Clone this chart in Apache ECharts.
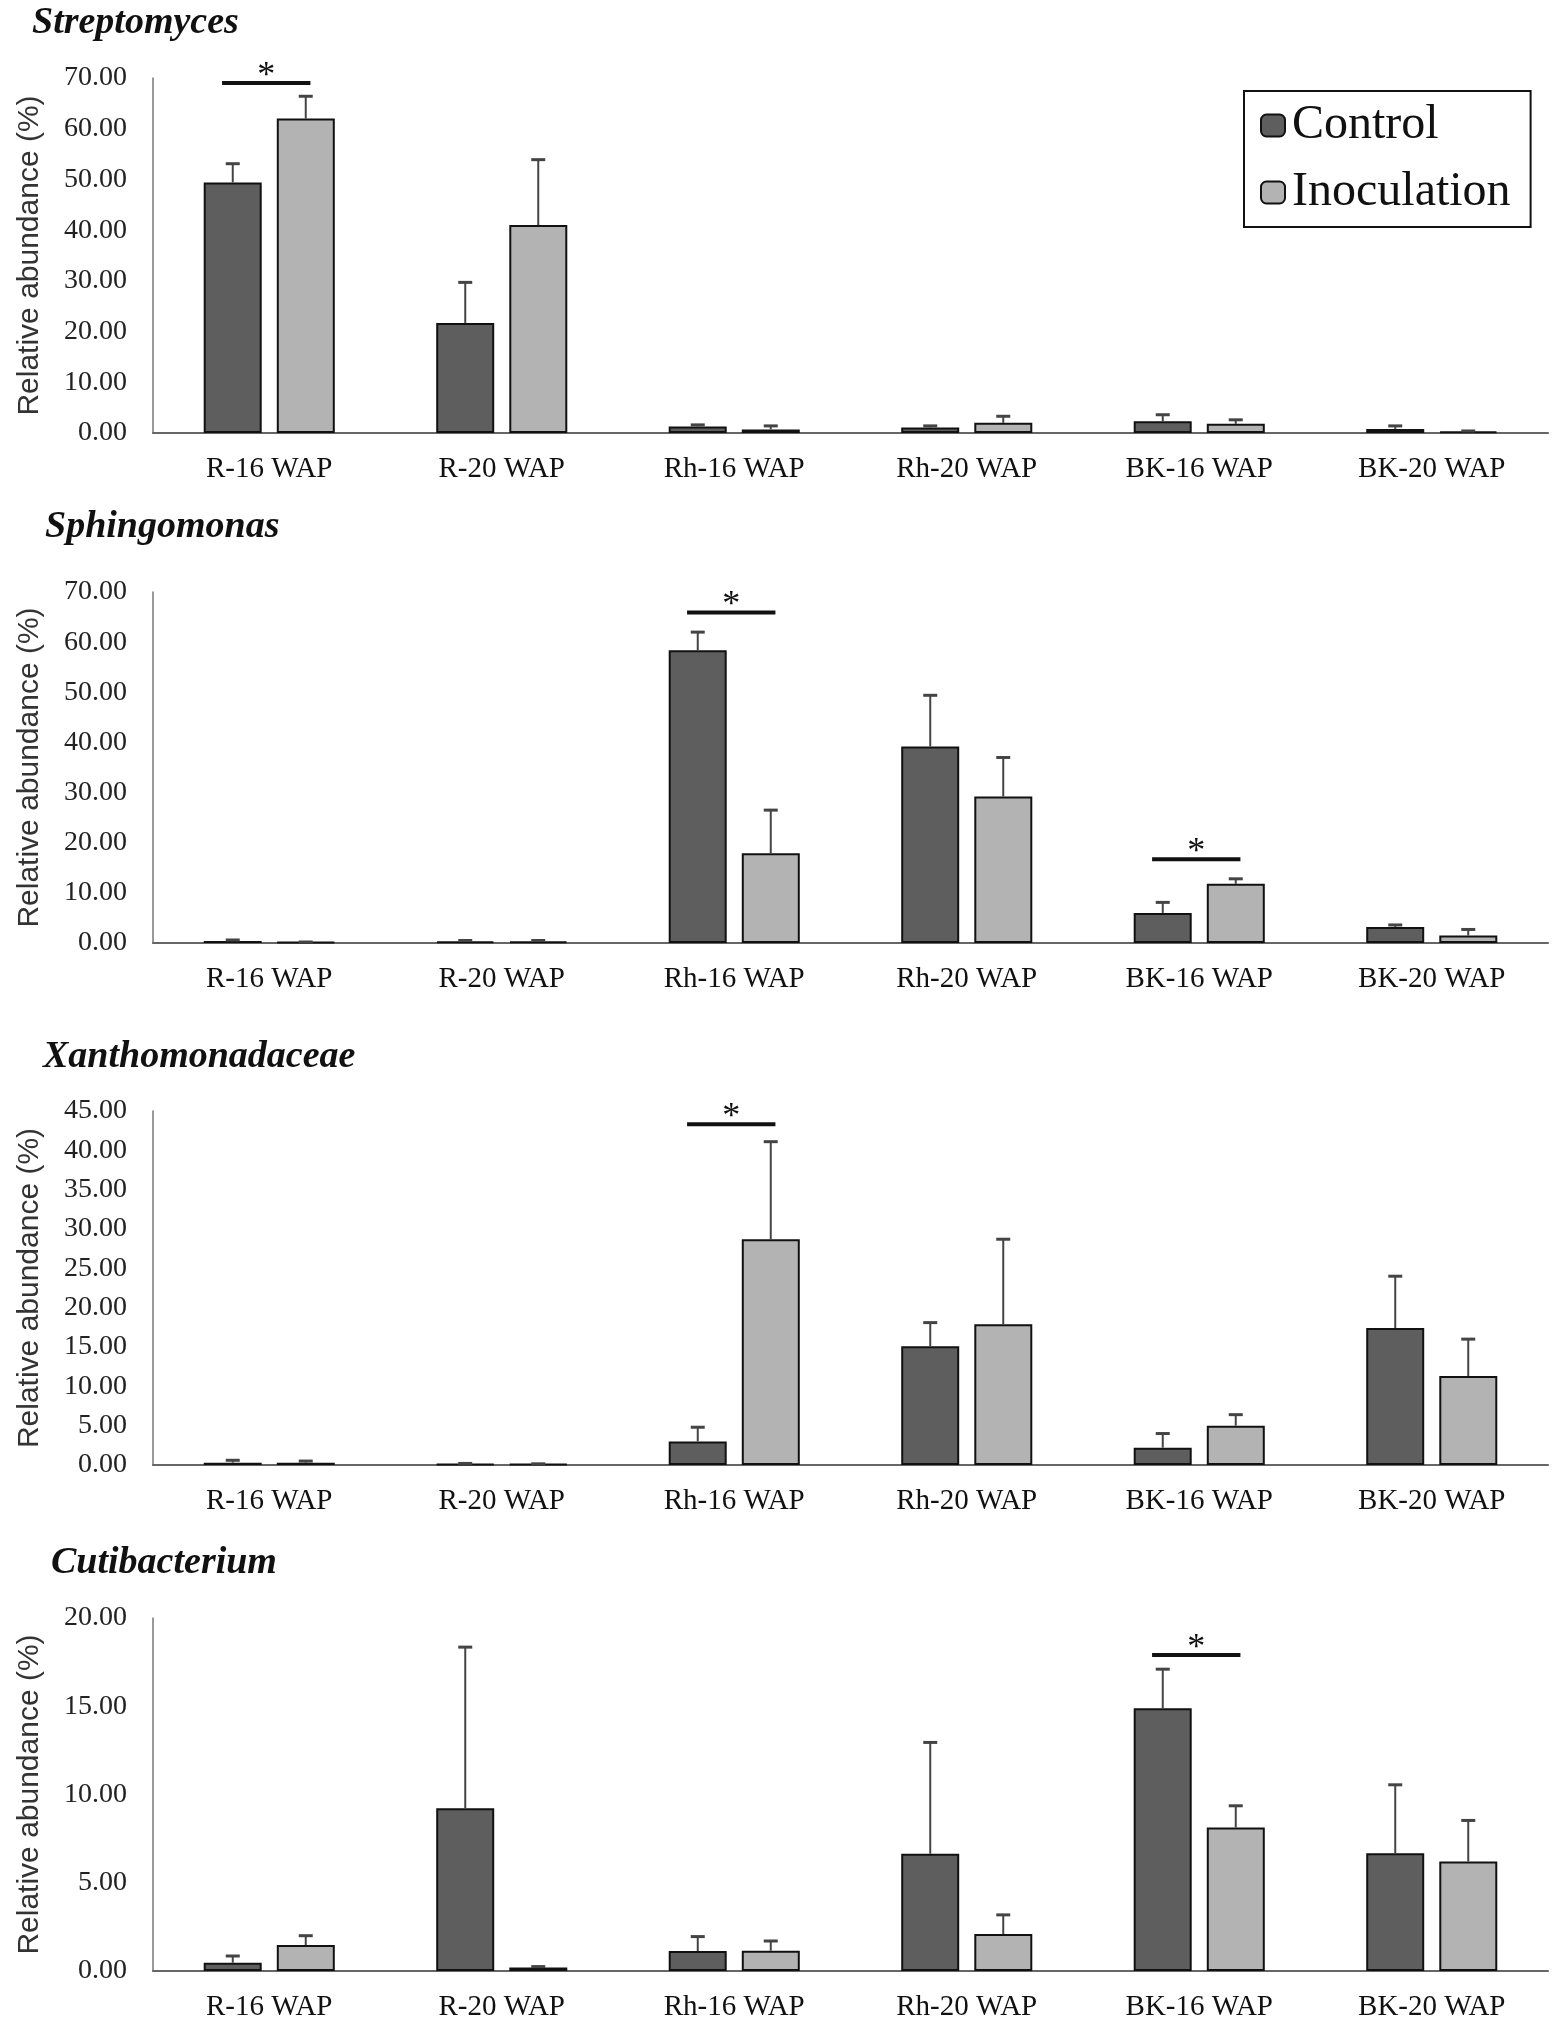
<!DOCTYPE html>
<html><head><meta charset="utf-8">
<script src="https://cdn.jsdelivr.net/npm/echarts@6/dist/echarts.min.js"></script>
<style>html,body{margin:0;padding:0;background:#fff}#c{width:1559px;height:2028px}</style>
</head><body><div id="c"></div>
<script>
// ---------- data ----------
const categories = ['R-16 WAP', 'R-20 WAP', 'Rh-16 WAP', 'Rh-20 WAP', 'BK-16 WAP', 'BK-20 WAP'];
const seriesNames = ['Control', 'Inoculation'];
const panelTitles = ['Streptomyces', 'Sphingomonas', 'Xanthomonadaceae', 'Cutibacterium'];
const yMax = [70, 70, 45, 20];
const yStep = [10, 10, 5, 5];

const streptomycesControl = [49.4, 21.7, 1.3, 1.1, 2.3, 0.8];
const streptomycesControlErr = [3.7, 8.0, 0.3, 0.3, 1.3, 0.6];
const streptomycesInoc = [62.0, 41.0, 0.7, 2.0, 1.8, 0.3];
const streptomycesInocErr = [4.4, 12.9, 0.7, 1.3, 0.8, 0.1];
const streptomycesSigCats = [0];
const streptomycesSigY = [69.0];

const sphingomonasControl = [0.4, 0.3, 58.4, 39.2, 6.0, 3.2];
const sphingomonasControlErr = [0.2, 0.2, 3.6, 10.2, 2.1, 0.4];
const sphingomonasInoc = [0.15, 0.3, 17.9, 29.2, 11.8, 1.5];
const sphingomonasInocErr = [0.05, 0.2, 8.6, 7.8, 1.0, 1.2];
const sphingomonasSigCats = [2, 4];
const sphingomonasSigY = [65.9, 16.7];

const xanthoControl = [0.3, 0.1, 3.0, 15.1, 2.2, 17.4];
const xanthoControlErr = [0.3, 0.1, 1.8, 3.0, 1.8, 6.6];
const xanthoInoc = [0.3, 0.1, 28.7, 17.9, 5.0, 11.3];
const xanthoInocErr = [0.2, 0.05, 12.4, 10.8, 1.4, 4.7];
const xanthoSigCats = [2];
const xanthoSigY = [43.3];

const cutibacteriumControl = [0.47, 9.22, 1.13, 6.64, 14.88, 6.67];
const cutibacteriumControlErr = [0.38, 9.13, 0.82, 6.31, 2.22, 3.88];
const cutibacteriumInoc = [1.47, 0.2, 1.15, 2.1, 8.13, 6.2];
const cutibacteriumInocErr = [0.53, 0.05, 0.55, 1.08, 1.23, 2.33];
const cutibacteriumSigCats = [4];
const cutibacteriumSigY = [17.9];

const panels = [
  {ctrl: streptomycesControl, ctrlErr: streptomycesControlErr, inoc: streptomycesInoc, inocErr: streptomycesInocErr, sigCats: streptomycesSigCats, sigY: streptomycesSigY},
  {ctrl: sphingomonasControl, ctrlErr: sphingomonasControlErr, inoc: sphingomonasInoc, inocErr: sphingomonasInocErr, sigCats: sphingomonasSigCats, sigY: sphingomonasSigY},
  {ctrl: xanthoControl, ctrlErr: xanthoControlErr, inoc: xanthoInoc, inocErr: xanthoInocErr, sigCats: xanthoSigCats, sigY: xanthoSigY},
  {ctrl: cutibacteriumControl, ctrlErr: cutibacteriumControlErr, inoc: cutibacteriumInoc, inocErr: cutibacteriumInocErr, sigCats: cutibacteriumSigCats, sigY: cutibacteriumSigY}
];

// ---------- layout ----------
const gridTop = [78, 592, 1111, 1618];
const gridHeight = [355, 351, 354, 353];
const titlePos = [[32, 4], [45, 508], [43, 1038], [51, 1544]];
const colors = ['#5e5e5e', '#b3b3b3'];
const barW = 58;
const barOffset = 36.5;
const serif = '"Liberation Serif", "Times New Roman", serif';
const sans = '"Liberation Sans", Arial, sans-serif';

const grids = [], xAxes = [], yAxes = [], series = [], titles = [];

panels.forEach((p, k) => {
  grids.push({left: 153, right: 11, top: gridTop[k], height: gridHeight[k], containLabel: false});
  titles.push({
    text: panelTitles[k], left: titlePos[k][0], top: titlePos[k][1], padding: 0,
    textStyle: {fontFamily: serif, fontStyle: 'italic', fontWeight: 'bold', fontSize: 38, color: '#111'}
  });
  xAxes.push({
    type: 'category', gridIndex: k, data: categories,
    axisLine: {show: true, lineStyle: {color: '#666', width: 2}},
    axisTick: {show: false},
    axisLabel: {fontFamily: serif, fontSize: 29, color: '#111', margin: 22}
  });
  yAxes.push({
    type: 'value', gridIndex: k, min: 0, max: yMax[k], interval: yStep[k],
    axisLine: {show: true, lineStyle: {color: '#777', width: 1.5}},
    axisTick: {show: false},
    splitLine: {show: false},
    axisLabel: {fontFamily: serif, fontSize: 28, color: '#222', margin: 26, formatter: v => v.toFixed(2)},
    name: 'Relative abundance (%)', nameLocation: 'middle', nameGap: 108,
    nameTextStyle: {fontFamily: sans, fontSize: 30, color: '#333'}
  });

  const groups = [[p.ctrl, p.ctrlErr], [p.inoc, p.inocErr]];
  groups.forEach((g, s) => {
    series.push({
      type: 'bar', name: seriesNames[s], xAxisIndex: k, yAxisIndex: k,
      data: g[0], barWidth: barW, barGap: '26%',
      itemStyle: {color: colors[s], borderColor: '#111', borderWidth: 2},
      z: 2
    });
  });
  groups.forEach((g, s) => {
    const off = s === 0 ? -barOffset : barOffset;
    series.push({
      type: 'custom', xAxisIndex: k, yAxisIndex: k, z: 3,
      data: g[0].map((m, i) => [i, m, m + g[1][i]]),
      encode: {x: 0, y: [1, 2]},
      renderItem: (params, api) => {
        const i = api.value(0);
        const p0 = api.coord([i, api.value(1)]);
        const p1 = api.coord([i, api.value(2)]);
        const x = p0[0] + off;
        return {type: 'group', children: [
          {type: 'line', shape: {x1: x, y1: p0[1], x2: x, y2: p1[1]}, style: {stroke: '#444', lineWidth: 2}},
          {type: 'line', shape: {x1: x - 7, y1: p1[1], x2: x + 7, y2: p1[1]}, style: {stroke: '#444', lineWidth: 3}}
        ]};
      }
    });
  });
  series.push({
    type: 'custom', xAxisIndex: k, yAxisIndex: k, z: 4,
    data: p.sigCats.map((c, j) => [c, p.sigY[j]]),
    encode: {x: 0, y: 1},
    renderItem: (params, api) => {
      const c = api.coord([api.value(0), api.value(1)]);
      const half = api.size([1, 0])[0] * 0.19;
      const cx = c[0] - 3;
      return {type: 'group', children: [
        {type: 'line', shape: {x1: cx - half, y1: c[1], x2: cx + half, y2: c[1]}, style: {stroke: '#111', lineWidth: 4}},
        {type: 'text', x: cx, y: c[1] - 7, style: {text: '*', fontFamily: serif, fontSize: 36, fill: '#111', align: 'center', verticalAlign: 'middle'}}
      ]};
    }
  });
});

const chart = echarts.init(document.getElementById('c'));
chart.setOption({
  animation: false,
  backgroundColor: '#fff',
  title: titles,
  grid: grids,
  xAxis: xAxes,
  yAxis: yAxes,
  legend: {
    data: seriesNames, orient: 'vertical', left: 1244, top: 91,
    padding: [9, 20, 9, 16], itemGap: 16, itemWidth: 24, itemHeight: 22,
    borderColor: '#111', borderWidth: 2, borderRadius: 0,
    textStyle: {fontFamily: serif, fontSize: 48, color: '#111', lineHeight: 51, padding: [0, 0, 0, 2]}
  },
  series: series
});
</script></body></html>
